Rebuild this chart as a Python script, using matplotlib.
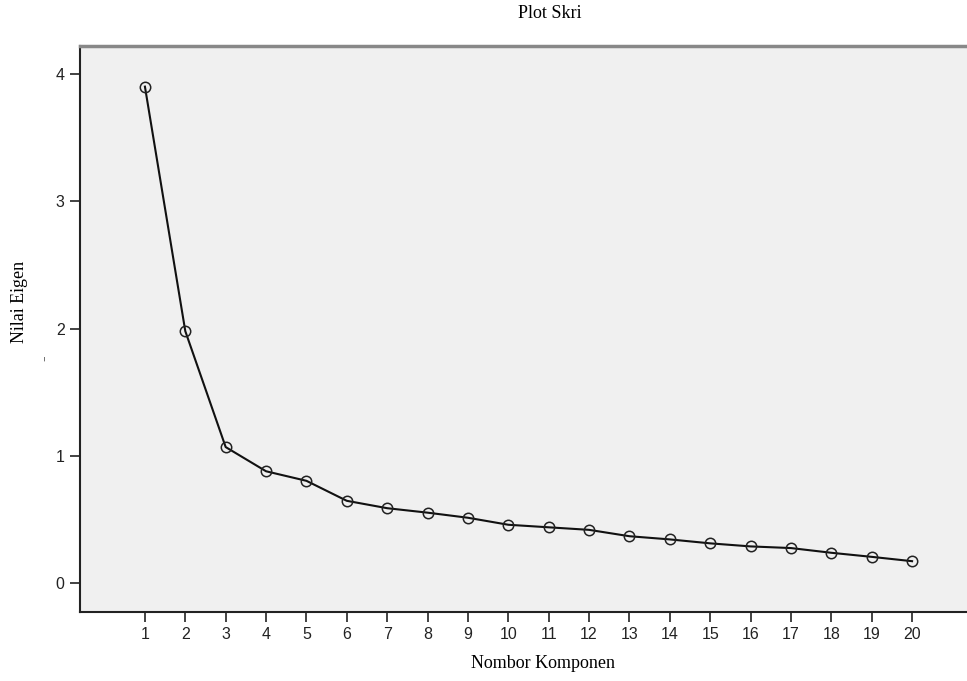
import matplotlib
matplotlib.use("Agg")
import matplotlib.pyplot as plt

# data
komponen = list(range(1, 21))
nilai_eigen = [3.90, 1.98, 1.07, 0.88, 0.805, 0.648, 0.59, 0.555, 0.515, 0.46,
               0.44, 0.42, 0.37, 0.345, 0.314, 0.29, 0.277, 0.24, 0.208, 0.174]
y_ticks = [0, 1, 2, 3, 4]

W, H = 967, 681
fig = plt.figure(figsize=(W / 100, H / 100), dpi=100)
ax = fig.add_axes([80 / W, (H - 612) / H, 1 - 80 / W + 0.01, (612 - 46) / H])
ax.set_facecolor("#f0f0f0")

ax.plot(komponen, nilai_eigen, color="#111111", lw=1.5, marker="o", ms=7.5,
        mfc="none", mec="#222222", mew=1.1)

ax.set_xlim(-0.608, 21.6)
ax.set_ylim(-0.225, 4.219)
ax.set_xticks(komponen)
ax.set_yticks(y_ticks)
ax.tick_params(direction="out", length=7, width=1.2, labelsize=11.5,
               colors="#222222", pad=4)
for lab in ax.get_xticklabels() + ax.get_yticklabels():
    lab.set_family("Liberation Sans")

ax.spines["right"].set_visible(False)
ax.spines["left"].set_linewidth(1.5)
ax.spines["bottom"].set_linewidth(1.5)
ax.spines["left"].set_color("#222222")
ax.spines["bottom"].set_color("#222222")
ax.spines["top"].set_linewidth(2.5)
ax.spines["top"].set_color("#888888")

serif = "Liberation Serif"
fig.text(550 / W, 1 - 13 / H, "Plot Skri", ha="center", va="center",
         family=serif, fontsize=13)
fig.text(543 / W, 1 - 664 / H, "Nombor Komponen", ha="center", va="center",
         family=serif, fontsize=13)
fig.text(20 / W, 1 - 302 / H, "Nilai Eigen", ha="center", va="center",
         rotation=90, family=serif, fontsize=13)
fig.text(44 / W, 1 - 358 / H, "-", ha="center", va="center",
         rotation=90, family=serif, fontsize=12, color="#444444")

fig.savefig("out.png", dpi=100)
